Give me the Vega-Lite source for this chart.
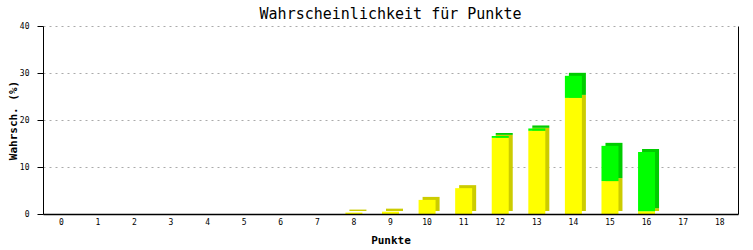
{
  "$schema": "https://vega.github.io/schema/vega-lite/v6.json",
  "width": 695,
  "height": 188,
  "autosize": "none",
  "padding": {"left": 43, "top": 26, "right": 15, "bottom": 36},
  "background": "white",
  "title": {"text": "Wahrscheinlichkeit für Punkte", "font": "DejaVu Sans Mono", "fontSize": 15, "fontWeight": "normal", "color": "black", "offset": 0},
  "config": {"view": {"stroke": null}},
  "data": {"values": [
    {"p": 0, "serie": "A", "v": 0}, {"p": 0, "serie": "B", "v": 0},
    {"p": 1, "serie": "A", "v": 0}, {"p": 1, "serie": "B", "v": 0},
    {"p": 2, "serie": "A", "v": 0}, {"p": 2, "serie": "B", "v": 0},
    {"p": 3, "serie": "A", "v": 0}, {"p": 3, "serie": "B", "v": 0},
    {"p": 4, "serie": "A", "v": 0}, {"p": 4, "serie": "B", "v": 0},
    {"p": 5, "serie": "A", "v": 0}, {"p": 5, "serie": "B", "v": 0},
    {"p": 6, "serie": "A", "v": 0}, {"p": 6, "serie": "B", "v": 0},
    {"p": 7, "serie": "A", "v": 0}, {"p": 7, "serie": "B", "v": 0},
    {"p": 8, "serie": "A", "v": 0.3}, {"p": 8, "serie": "B", "v": 0},
    {"p": 9, "serie": "A", "v": 0.5}, {"p": 9, "serie": "B", "v": 0},
    {"p": 10, "serie": "A", "v": 3.0}, {"p": 10, "serie": "B", "v": 0},
    {"p": 11, "serie": "A", "v": 5.5}, {"p": 11, "serie": "B", "v": 0},
    {"p": 12, "serie": "A", "v": 16.2}, {"p": 12, "serie": "B", "v": 0.4},
    {"p": 13, "serie": "A", "v": 17.7}, {"p": 13, "serie": "B", "v": 0.5},
    {"p": 14, "serie": "A", "v": 24.7}, {"p": 14, "serie": "B", "v": 4.7},
    {"p": 15, "serie": "A", "v": 7.0}, {"p": 15, "serie": "B", "v": 7.5},
    {"p": 16, "serie": "A", "v": 0.6}, {"p": 16, "serie": "B", "v": 12.6},
    {"p": 17, "serie": "A", "v": 0}, {"p": 17, "serie": "B", "v": 0},
    {"p": 18, "serie": "A", "v": 0}, {"p": 18, "serie": "B", "v": 0}
  ]},
  "encoding": {
    "x": {
      "field": "p", "type": "ordinal",
      "scale": {"domain": [0,1,2,3,4,5,6,7,8,9,10,11,12,13,14,15,16,17,18], "paddingInner": 0, "paddingOuter": 0},
      "axis": {
        "title": "Punkte", "titleFont": "DejaVu Sans Mono", "titleFontSize": 11, "titleFontWeight": "bold", "titleColor": "black", "titlePadding": 8,
        "labelFont": "DejaVu Sans Mono", "labelFontSize": 8, "labelColor": "black", "labelAngle": 0, "labelPadding": 4,
        "ticks": false, "domainColor": "black", "domainWidth": 1.5, "zindex": 1
      }
    },
    "order": {"field": "serie", "type": "nominal", "sort": "ascending"}
  },
  "layer": [
    {
      "mark": {"type": "bar", "size": 17, "xOffset": 4, "yOffset": -3},
      "encoding": {
        "y": {"field": "v", "type": "quantitative", "stack": "zero", "scale": {"domain": [0, 40], "nice": false},
          "axis": {"orient": "right", "title": null, "labels": false, "ticks": false, "grid": false, "domainColor": "black", "domainWidth": 1}},
        "color": {"field": "serie", "type": "nominal", "scale": {"domain": ["A", "B"], "range": ["#CCCC00", "#00CC00"]}, "legend": null}
      }
    },
    {
      "mark": {"type": "bar", "size": 17},
      "encoding": {
        "y": {"field": "v", "type": "quantitative", "stack": "zero", "scale": {"domain": [0, 40], "nice": false},
          "axis": {"orient": "left", "title": "Wahrsch. (%)", "titleFont": "DejaVu Sans Mono", "titleFontSize": 11, "titleFontWeight": "bold", "titleColor": "black", "titlePadding": 1,
            "values": [0, 10, 20, 30, 40], "labelFont": "DejaVu Sans Mono", "labelFontSize": 8, "labelColor": "black", "labelPadding": 8,
            "tickSize": 6, "tickColor": "black", "domainColor": "black", "domainWidth": 1,
            "grid": true, "gridColor": "#aaaaaa", "gridDash": [2, 4], "gridWidth": 1}},
        "color": {"field": "serie", "type": "nominal", "scale": {"domain": ["A", "B"], "range": ["#FFFF00", "#00FF00"]}, "legend": null}
      }
    }
  ],
  "resolve": {"scale": {"color": "independent"}, "axis": {"y": "independent"}}
}
